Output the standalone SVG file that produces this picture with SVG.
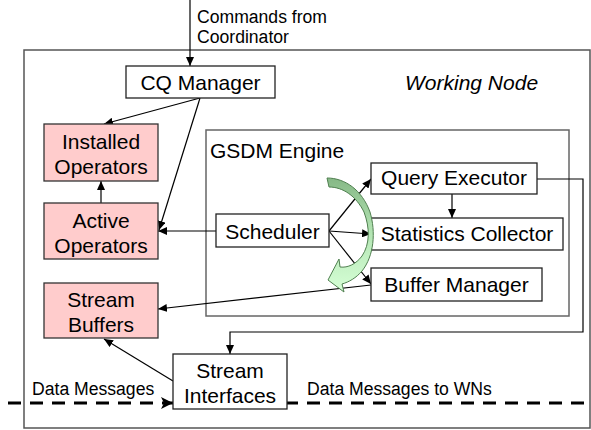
<svg xmlns="http://www.w3.org/2000/svg" width="591" height="430" viewBox="0 0 591 430">
<style>
  .box{fill:#fff;stroke:#222;stroke-width:1.3}
  .op{fill:#ffcccc;stroke:#333;stroke-width:1.3}
  .frame{fill:none;stroke:#555;stroke-width:1.5}
  .lbl{font-family:"Liberation Sans",Arial,sans-serif;font-size:21px;fill:#000;text-anchor:middle}
  .small{font-family:"Liberation Sans",Arial,sans-serif;font-size:17.6px;fill:#000}
  .conn{fill:none;stroke:#000;stroke-width:1.2}
  .dash{fill:none;stroke:#000;stroke-width:3;stroke-dasharray:13 9}
</style>
<defs>
  <marker id="ah" markerWidth="9" markerHeight="8" refX="9" refY="4" orient="auto" markerUnits="userSpaceOnUse">
    <path d="M0,0 L9,4 L0,8 z" fill="#000"/>
  </marker>
  <marker id="ahBig" markerWidth="12" markerHeight="12" refX="12" refY="6" orient="auto" markerUnits="userSpaceOnUse">
    <path d="M0,0 L12,6 L0,12 L3,6 z" fill="#000"/>
  </marker>
  <linearGradient id="grn" x1="0" y1="0" x2="0" y2="1">
    <stop offset="0" stop-color="#86b886"/>
    <stop offset="0.5" stop-color="#b5e6b5"/>
    <stop offset="1" stop-color="#d6ffd6"/>
  </linearGradient>
</defs>

<g id="working-node">
  <rect class="frame" x="24" y="50" width="566" height="378"/>
  <text class="small" x="405" y="90" style="font-size:21px;font-style:italic">Working Node</text>
</g>

<g id="gsdm-engine">
  <rect class="frame" x="206" y="130" width="363" height="186" style="stroke:#666"/>
  <text class="small" x="210" y="158" style="font-size:21px">GSDM Engine</text>
</g>

<g id="connectors">
  <line class="conn" x1="190" y1="0" x2="190" y2="66" marker-end="url(#ah)"/>
  <line class="conn" x1="200" y1="98" x2="104" y2="124" marker-end="url(#ah)"/>
  <line class="conn" x1="200" y1="98" x2="159" y2="230" marker-end="url(#ah)"/>
  <line class="conn" x1="101" y1="203" x2="101" y2="181" marker-end="url(#ah)"/>
  <line class="conn" x1="216" y1="231" x2="158" y2="231" marker-end="url(#ah)"/>
  <line class="conn" x1="329" y1="231" x2="371" y2="179" marker-end="url(#ah)"/>
  <line class="conn" x1="329" y1="231" x2="371" y2="234" marker-end="url(#ah)"/>
  <line class="conn" x1="329" y1="231" x2="371" y2="284" marker-end="url(#ah)"/>
  <line class="conn" x1="452" y1="194" x2="452" y2="218" marker-end="url(#ah)"/>
  <line class="conn" x1="371" y1="285" x2="158" y2="309" marker-end="url(#ah)"/>
  <path class="conn" d="M537,179 H583 V332 H230 V354" marker-end="url(#ah)"/>
  <line class="conn" x1="173" y1="381" x2="104" y2="339" marker-end="url(#ah)"/>
  <line class="dash" x1="8" y1="403" x2="173" y2="403" marker-end="url(#ahBig)"/>
  <line class="dash" x1="287" y1="403" x2="591" y2="403" style="stroke-dashoffset:2"/>
  <text class="small" x="197" y="23">Commands from</text>
  <text class="small" x="197" y="43">Coordinator</text>
  <text class="small" x="32" y="395">Data Messages</text>
  <text class="small" x="307" y="395">Data Messages to WNs</text>
</g>

<g id="cq-manager">
  <rect class="box" x="126" y="66" width="149" height="32"/>
  <text class="lbl" x="200.5" y="89.5">CQ Manager</text>
</g>

<g id="installed-operators">
  <rect class="op" x="44" y="124" width="114" height="57"/>
  <text class="lbl" x="101" y="148.5">Installed</text>
  <text class="lbl" x="101" y="174">Operators</text>
</g>

<g id="active-operators">
  <rect class="op" x="44" y="203" width="114" height="56"/>
  <text class="lbl" x="101" y="227.5">Active</text>
  <text class="lbl" x="101" y="253">Operators</text>
</g>

<g id="stream-buffers">
  <rect class="op" x="44" y="283" width="114" height="55"/>
  <text class="lbl" x="101" y="306.5">Stream</text>
  <text class="lbl" x="101" y="332">Buffers</text>
</g>

<g id="scheduler">
  <rect class="box" x="216" y="214" width="113" height="33"/>
  <text class="lbl" x="272.5" y="239">Scheduler</text>
</g>

<g id="query-executor">
  <rect class="box" x="371" y="163" width="166" height="31"/>
  <text class="lbl" x="454" y="185">Query Executor</text>
</g>

<g id="statistics-collector">
  <rect class="box" x="371" y="218" width="192" height="32"/>
  <text class="lbl" x="467" y="240.5">Statistics Collector</text>
</g>

<g id="buffer-manager">
  <rect class="box" x="371" y="268" width="171" height="33"/>
  <text class="lbl" x="456.5" y="292">Buffer Manager</text>
</g>

<g id="stream-interfaces">
  <rect class="box" x="173" y="354" width="114" height="55"/>
  <text class="lbl" x="230" y="378">Stream</text>
  <text class="lbl" x="230" y="403">Interfaces</text>
</g>

<g id="scheduling-cycle">
  <path d="M327,178 C345,178 362,190 370,212 C376,232 374,256 362,271 C356,278 349,282 342,284 L344,292 L328,280 L339,259 L340,267 C348,268 356,264 362,256 C370,244 370,228 364,212 C356,196 343,187 329,187 Z" fill="url(#grn)" stroke="#4f7f4f" stroke-width="1"/>
</g>
</svg>
